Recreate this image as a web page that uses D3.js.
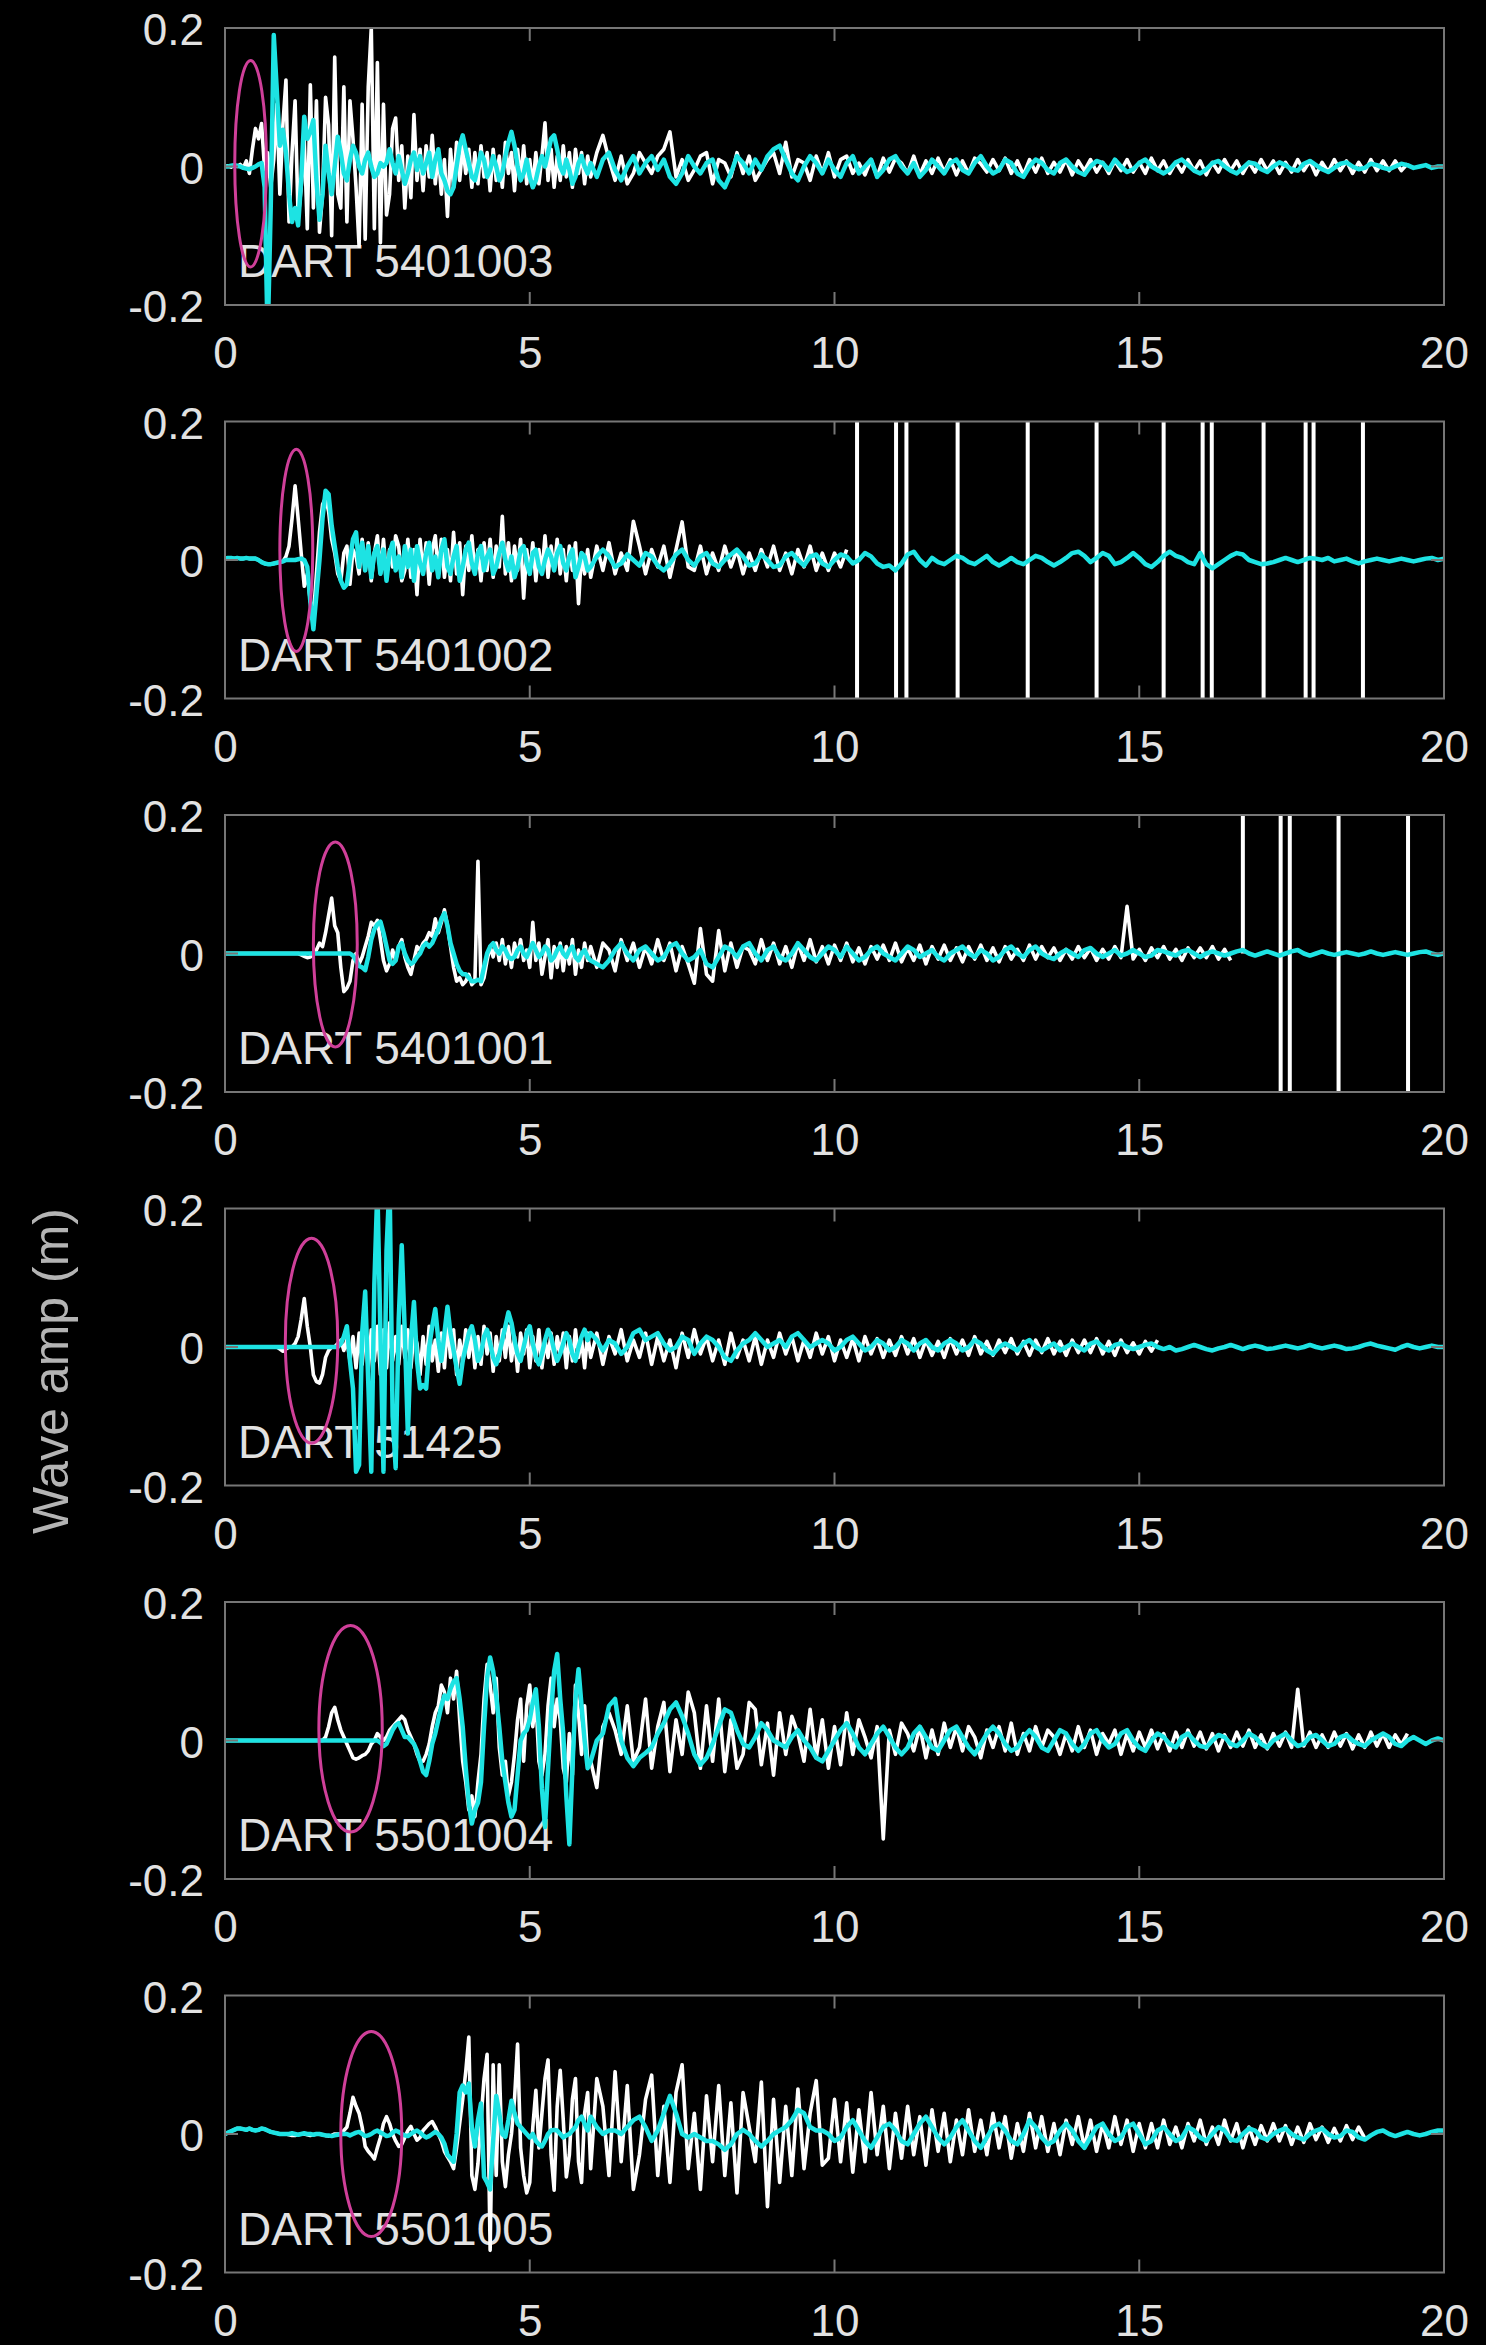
<!DOCTYPE html>
<html>
<head>
<meta charset="utf-8">
<script src="https://cdn.jsdelivr.net/npm/d3@7"></script>
<style>
  html, body { margin: 0; padding: 0; background: #000; }
  svg { display: block; }
</style>
</head>
<body>
<svg id="chart" width="1486" height="2345"></svg>
<script>
// ---- Stations and axes --------------------------------------------------
const stations = ["DART 5401003", "DART 5401002", "DART 5401001", "DART 51425", "DART 5501004", "DART 5501005"];
const xTicks = [0, 5, 10, 15, 20];          // hours after the earthquake
const yTicks = [-0.2, 0, 0.2];              // wave amplitude (m)
const yLabel = "Wave amp (m)";

// Sampling of the records: every 3 min for the first 6 h, every 6 min after.
const earlyStep = 0.05, lateStart = 6, lateStep = 0.1;

// ---- Observed (white) and modelled (cyan) amplitudes, in mm ---------------
const obsEarly1 = [0,1,-1,2,0,3,-2,8,-10,25, 55,40,62,-5,20,-30,10,90,-40,60, 125,-80,20,95,-75,-30,40,-90,118,-60, 95,-95,-40,100,60,-100,158,-40,-60,115, -80,95,40,-30,-115,90,-105,115,200,-90, 150,-110,90,-70,-40,55,70,-20,30,-60, 15,-45,75,-20,25,-35,30,-15,45,-25, 20,-40,10,-72,25,-30,35,-20,30,-10, 25,-30,20,-25,30,-15,20,-35,25,-20, 15,-30,35,-10,20,-35,25,-20,30,-25, 10,-30,20,-25,15,63,-20,25,-30,15, -20,30,-15,20,-30,25,-10,20,-25,15];
const obsLate1 = [-15,20,45,10,-20,15,-25,-10,20,5, -10,15,25,50,-15,10,-20,-5,15,20, -25,10,5,-15,20,-10,15,-20,-5,10, 20,-10,35,-15,10,5,-20,15,-10,20, -15,10,15,-10,5,-12,10,-15,12,-8, 12,5,-10,15,-12,8,-10,12,-8,10, -12,8,-10,12,4,-8,10,-6,12,-10, 8,-12,10,-8,12,-10,6,-8,10,-12, 8,-6,10,-8,6,-10,8,-6,10,-8, 6,-10,12,-6,8,-10,6,-8,10,-6, 8,-12,6,-8,10,-6,8,-10,6,-8, 10,-6,8,-10,6,-8,10,-6,8,-12, 6,-8,10,-6,8,-10,6,-8,10,-6, 8,-6,8,-6,4];
const modEarly1 = [0,0,1,2,1,0,-2,-3,-4,-2, 0,3,5,-30,-250,-60,190,110,30,53, 20,-40,-80,-60,-85,-20,72,40,50,67, -20,-77,-40,30,-10,-40,0,43,20,-10, -20,10,30,20,0,-10,10,20,0,-15, -10,5,0,5,25,5,-10,15,-5,-25, -10,10,20,-5,15,-10,5,20,-15,10, 25,-10,-20,-35,-40,-30,0,30,45,25, 5,-15,-20,0,20,10,-15,-5,15,0, -20,-10,15,35,50,30,0,-20,-10,10, -15,-30,-20,0,15,0,20,40,45,25, 0,-10,10,-5,-25,-15,5,15,0,-10];
const modLate1 = [5,-15,10,20,-5,-20,0,15,-10,5, 15,-5,10,-15,-25,-10,15,0,-10,5, 10,-20,-30,-10,15,5,-10,10,-5,15, 25,30,10,-10,-20,0,15,5,-10,10, -5,-15,5,15,-10,0,10,-15,-5,10, 15,0,-10,5,-15,-5,10,0,-10,5, 10,-5,-10,5,15,0,-10,-5,10,5, -10,-15,0,10,5,-5,-10,5,10,0, -8,-12,0,8,5,-5,10,0,-8,-4, 5,10,0,-5,-10,-4,6,10,2,-6, -10,-4,5,8,0,-6,-10,-2,6,4, -4,-8,0,6,2,-4,-6,4,8,2, -4,-8,-2,4,6,0,-4,-2,4,2, -2,-4,0,4,2,-2,0,2,-2,0, 0];

const obsEarly2 = [2,3,3,2,3,2,2,3,2,2, 2,0,-3,-5,-6,-6,-5,-4,-3,-2, 5,20,60,107,60,10,-38,-20,-60,-80, -20,40,80,90,70,30,10,-20,-30,10, 20,-35,15,5,-20,30,-15,25,-30,10, 35,-20,30,-25,15,-10,35,20,-30,-15, 30,-25,15,-50,30,-20,25,-35,15,35, -20,30,-25,15,-30,40,-20,25,-50,20, -15,35,-20,15,-30,25,-15,30,-25,20, -10,63,-20,25,-30,20,-15,30,-55,15, -20,25,-30,15,-20,35,-25,20,-15,30, -20,15,-30,20,-15,25,-63,10,-20,15];
const obsLate2 = [-25,20,-15,25,-20,10,-15,56,20,-20, 15,-10,20,-25,15,55,-10,-15,20,-20, 10,-15,20,-10,15,-20,10,-15,15,-10, 20,-15,10,-20,15,-10,20,-15,10,-15, 10,-10,15];
const modEarly2 = [2,3,3,2,3,2,2,3,2,2, 2,0,-3,-5,-6,-6,-5,-4,-3,-2, 0,0,0,0,1,2,0,-10,-60,-100, -50,0,60,100,95,50,20,-10,-30,-40, -35,0,30,40,-10,25,-15,20,-25,10, 20,-20,15,-30,10,25,-15,5,-25,20, -10,15,-30,20,-5,-20,10,25,-15,5, -25,15,30,-10,-20,5,20,-30,-10,15, 25,-5,-20,10,20,-15,5,15,-20,-10, 10,25,0,-15,5,-25,-10,15,20,-5, -20,10,15,-10,-20,0,15,5,-15,10, 20,-5,-15,5,15,-25,-10,10,5,-15];
const modLate2 = [-10,5,15,5,-10,-5,8,0,-8,10, 5,-8,-15,-5,8,15,0,-8,5,10, -5,-10,0,8,15,5,-8,-5,8,0, -10,-8,5,10,0,-8,5,8,-5,-10, 0,8,5,-5,0,10,5,-5,-10,-8, -15,-5,8,12,0,-8,3,-3,-6,0, 6,3,-3,-6,0,6,-3,-8,-3,3, -3,-6,0,6,3,-3,-8,-3,3,10, 12,6,-3,3,10,6,-6,-3,3,10, 3,-6,-10,-3,6,12,6,3,-3,-6, 10,-6,-12,-6,0,6,10,8,0,-3, -6,-5,-3,0,3,0,-3,0,3,2, 0,3,-2,0,2,-2,-5,-2,0,2, 0,-2,0,2,0,-2,0,2,3,0, 2];

const obsEarly3 = [0,0,0,0,0,0,0,0,0,0, 0,0,0,0,0,0,0,0,0,0, 0,0,0,0,0,-2,-4,-6,-5,2, 5,15,10,30,55,80,40,30,-20,-55, -50,-40,-10,0,-15,-5,10,25,45,40, 48,20,-10,-25,-15,5,-10,10,20,-5, -20,-30,-10,10,5,15,20,30,25,50, 30,45,63,40,10,-20,-40,-35,-45,-40, -30,-45,-40,133,-45,-35,-10,10,-5,15, -10,20,-15,10,-20,15,-5,20,-10,5, -20,45,-10,15,-30,-5,20,-35,10,-20, 15,-25,10,-15,20,-30,5,-20,15,-10];
const obsLate3 = [10,-20,15,5,-25,20,-10,15,-20,10, -15,20,-10,15,-25,10,-15,-43,36,-30, -40,33,-25,15,-20,10,5,-15,20,-10, 15,-15,10,-20,15,-10,20,-12,10,-15, 12,-10,15,-12,8,-15,10,-8,12,-10, 15,-12,8,-10,12,-15,10,-8,12,-10, 8,-12,10,-8,12,-10,8,-12,10,-8, 6,-10,12,-8,10,-6,8,-10,6,-8, 10,-6,8,-10,6,-8,10,-6,68,-8, 6,-10,8,-6,10,-8,6,-10,8,-6, 8,-6,10,-8,6,-10];
const modEarly3 = [0,0,0,0,0,0,0,0,0,0, 0,0,0,0,0,0,0,0,0,0, 0,0,0,0,0,0,0,0,0,0, 0,0,0,0,0,0,0,0,0,0, 0,0,-3,-10,-18,-20,-24,-5,20,35, 42,46,30,10,-10,-15,-10,10,15,0, -10,-15,-12,-5,0,10,15,10,15,25, 35,50,58,40,15,0,-15,-25,-30,-30, -35,-40,-40,-38,-40,-20,0,10,15,5, 0,10,5,-5,-8,-5,5,10,0,-5, 5,15,5,-5,0,10,5,-10,-5,5, 10,0,-5,5,10,-5,-10,0,5,-5];
const modLate3 = [-10,-15,-20,-10,5,15,0,-10,5,10, 0,-10,-5,10,15,0,-10,-5,5,-15, -20,-5,10,5,-5,10,15,0,-10,5, 10,-5,-10,0,15,5,-5,-10,0,10, 5,-5,10,0,-10,-5,5,10,0,-5, -10,0,10,5,-5,0,5,-5,-10,0, 5,10,0,-5,5,0,-10,-5,5,10, 0,-5,5,10,0,-5,-8,0,5,0, -5,5,8,0,-5,0,5,-3,0,5, 0,-5,-3,5,3,0,-3,3,5,0, -5,0,3,0,-3,0,3,5,0,-3, 0,3,0,-3,0,3,5,0,-3,0, 3,0,-2,0,2,0,-2,0,3,0, -2,0,2,0,-2,0,2,3,0,-2, 0];

const obsEarly4 = [0,0,0,0,0,0,0,0,0,0, 0,0,0,0,0,0,0,0,-3,-6, -3,0,0,5,15,40,70,30,0,-40, -50,-52,-40,-15,-5,0,0,5,10,-5, 10,-20,15,-30,20,-25,30,-35,25,-20, 30,-40,25,-30,35,-20,15,-25,30,-15, 25,-30,20,5,-40,15,-25,30,-20,10, -35,20,-30,35,-15,25,-40,10,-20,25, -15,20,-30,15,-25,30,-10,20,-35,15, -20,25,-15,30,-20,15,-35,20,-10,25, -30,15,-20,25,-30,10,-15,20,-25,15, -10,20,-30,15,-20,25,-15,10,-30,20];
const obsLate4 = [-15,20,-25,15,-10,25,-20,10,-15,20, -25,15,-20,10,-30,20,-15,25,-10,15, -20,10,-25,20,-15,10,-20,15,-25,10, -15,20,-10,15,-20,10,-15,20,-10,15, -20,10,-15,12,-20,15,-10,12,-15,10, -12,15,-10,12,-15,10,-12,8,-15,12, -10,10,-12,15,-10,8,-12,10,-8,12, -10,8,-12,10,-8,12,-10,8,-12,10, -8,10,-8,12,-10,8,-12,10,-8,6, -10,8,-6,10];
const modEarly4 = [0,0,0,0,0,0,0,0,0,0, 0,0,0,0,0,0,0,0,0,0, 0,0,0,0,0,0,0,0,0,0, 0,0,0,0,0,0,0,0,5,15, 30,-20,-60,-180,-170,20,80,-50,-180,90, 230,20,-180,140,240,-100,-175,40,147,20, -125,10,65,-20,-60,-55,-60,0,30,55, 10,-20,20,58,20,-5,-30,-53,-20,0, 20,30,10,-20,-10,15,25,5,-15,-25, -10,10,30,50,35,10,-10,-20,0,20, 30,5,-15,-25,-10,10,25,15,-5,-20, -10,5,20,10,-10,-20,0,15,25,10];
const modLate4 = [20,10,-5,10,5,-10,0,20,25,10, 15,20,5,-5,0,15,10,-10,5,15, 10,0,-15,-20,-5,5,10,20,10,0, 5,10,0,15,20,10,0,5,10,5, -5,0,10,15,5,-5,0,10,5,-5, 0,10,5,-5,5,10,0,-5,5,10, 5,-5,0,10,5,-5,-10,0,5,0, -5,5,10,0,-5,0,5,-5,0,5, 0,-5,5,8,0,-5,3,5,0,-3, 0,3,5,0,-3,0,-5,-3,0,3, 0,-3,-5,-2,0,3,0,-3,0,2, 0,-3,-2,0,2,0,-2,0,3,0, -2,0,2,0,-3,-2,0,3,5,2, 0,-2,-4,0,3,0,-2,0,2,0, 0];

const obsEarly5 = [0,0,0,0,0,0,0,0,0,0, 0,0,0,0,0,0,0,0,0,0, 0,0,0,0,0,0,0,0,0,0, 0,0,0,5,20,40,48,30,15,5, -5,-15,-25,-27,-25,-22,-20,-15,-5,0, 10,5,0,5,15,20,25,30,35,30, 15,5,-5,-20,-30,-30,-20,-5,20,40, 50,80,70,40,90,60,100,30,-30,-60, -100,-80,-110,-60,-20,60,110,80,40,90, -10,-50,-30,-80,-60,-20,30,60,-30,50, 80,20,60,-30,-50,-20,50,90,20,60, 30,-40,-60,10,-50,80,40,-20,50,-30];
const obsLate5 = [-30,-68,20,40,15,-20,50,-30,-10,60, -40,20,55,-45,30,-20,70,40,-40,50, -30,60,-45,30,-40,-20,55,45,-35,25, -50,40,-20,35,10,-30,45,-25,30,-40, 20,-35,40,-20,30,5,-25,20,-142,15, -20,25,10,-15,20,-25,15,-20,25,-10, 20,-15,20,5,-25,15,-10,20,-15,25, -20,10,-15,20,-10,15,5,-20,10,-15, 20,-10,15,-20,10,-5,15,-20,10,-15, 12,-10,15,-12,10,-15,12,-10,15,-8, 12,-12,10,-15,8,-10,12,-8,15,-10, 8,-12,10,-8,12,-10,74,-8,12,-10, 8,-10,12,-8,10,-12,8,-10,12,-8, 10,-10,8,-6,10];
const modEarly5 = [0,0,0,0,0,0,0,0,0,0, 0,0,0,0,0,0,0,0,0,0, 0,0,0,0,0,0,0,0,0,0, 0,0,0,0,0,0,0,0,0,0, 0,0,0,0,0,0,0,0,0,0, 0,-3,-8,-5,5,15,22,25,15,5, 5,0,-5,-15,-30,-45,-50,-30,-5,10, 30,50,65,60,75,85,90,60,20,-40, -90,-120,-100,-90,-60,20,90,120,100,64, 20,-30,-60,-90,-110,-100,-50,0,10,15, 30,55,74,20,-70,-125,-40,40,100,125, 60,10,-80,-150,-40,60,103,50,0,-40];
const modLate5 = [-30,0,10,50,60,0,-25,-37,-25,-18, -10,10,25,45,55,35,10,-20,-35,-25, -5,20,45,40,15,-5,-10,5,25,15, 0,-5,-10,5,15,0,-10,-25,-30,-15, 0,15,25,10,-10,-20,-5,10,20,5, -10,-20,-10,10,20,5,-10,-15,0,15, 20,5,-10,-20,-5,10,20,10,-5,-15, -10,5,15,5,-10,-15,0,15,10,-5, -15,-5,10,15,0,-10,-5,10,15,0, -10,-15,0,10,5,-5,-10,5,10,0, -8,-10,0,8,5,-5,-8,0,10,5, -5,-10,0,5,10,0,-8,-5,5,8, 0,-8,-5,5,8,0,-5,-8,0,5, 10,5,-5,-8,0,5,0,-5,0,3, 0];

const obsEarly6 = [0,2,4,6,8,8,7,6,8,6, 5,6,8,7,5,3,2,1,0,0, 0,-1,-2,-2,-1,0,0,-1,-2,-1, 0,0,-1,-2,-3,-2,0,0,0,5, 10,30,53,40,30,10,-18,-25,-30,-36, -20,-5,15,25,15,0,-10,-18,-15,-5, 5,11,0,-9,-5,5,10,15,18,10, 0,-10,-25,-33,-40,-50,-20,15,50,90, 140,-60,-80,-43,20,80,115,-168,100,-60, 100,-40,-76,-30,0,50,130,-20,-60,-85, -70,10,63,-20,30,80,107,-30,-81,40, 92,20,-62,-30,50,80,-40,-70,30,60];
const obsLate6 = [-50,80,40,-60,90,-40,70,-80,-30,50, 85,-60,40,-70,60,100,-50,30,-80,55, -40,70,-60,45,-85,60,10,-40,75,-105, 50,-70,40,-60,65,-50,30,77,-45,-35, 50,-40,45,-55,35,-40,60,-30,40,-50, 30,-35,40,-30,25,-45,35,-25,30,-40, 20,-30,35,-25,20,-30,30,-20,25,-35, 15,-25,30,-20,25,-25,15,-30,20,-15, 25,-20,20,-25,15,-20,25,-15,20,-25, 15,-20,15,-20,20,-15,10,-20,15,-10, 20,-15,10,-15,20,-10,15,-20,10,-15, 12,-10,15,-10,12,-15,10,-12,15,-8, 10,-12,8,-10,12,-8,10,-6];
const modEarly6 = [0,2,4,6,8,8,7,6,8,6, 5,6,8,7,5,3,2,1,0,0, 0,0,1,0,-1,0,1,0,0,-1, 0,0,-1,-2,-2,-3,-2,-1,0,0, 0,-2,0,2,3,0,-3,-2,0,3, 5,2,0,-3,-2,2,5,3,0,-2, -3,0,3,5,2,-2,-5,-3,0,3, 0,-5,-14,-30,-35,-40,0,60,70,60, 73,10,-18,20,44,-62,-70,-80,-10,55, 30,0,-4,20,48,30,15,10,5,0, -5,0,-10,-15,-18,-10,0,5,6,5, 0,-5,-2,0,5,10,20,25,15,5];
const modLate6 = [25,10,0,5,5,0,10,20,25,10, -10,5,30,55,30,0,-5,0,-5,-10, -10,-15,-23,-15,0,6,0,-10,-18,-10, 0,5,10,20,35,30,10,5,5,0, -10,-5,10,20,5,-10,-20,-5,10,15, 5,-10,-15,0,15,25,10,-5,-15,-5, 10,20,5,-10,-20,-5,10,15,5,-10, -15,0,20,10,-5,-15,-10,5,15,5, -10,-20,-5,10,15,0,-10,-5,10,15, 0,-15,-10,5,10,0,-10,-5,10,5, -5,-10,0,10,5,-8,-10,0,8,5, -5,-8,0,5,8,0,-5,-8,0,5, 8,0,-5,-3,5,3,-5,-8,-2,3, 5,0,-3,0,3,0,-2,0,3,5, 5];

// Off-scale spikes in the recorded series: [hour, low (m), high (m)]
const glitches2 = [[10.37,-1,1],[11.01,-1,1],[11.18,-1,1],[12.02,-1,1],[13.17,-1,1],[14.30,-1,1],[15.40,-1,1],[16.04,-1,1],[16.19,-1,1],[17.04,-1,1],[17.73,-1,1],[17.86,-1,1],[18.67,-1,1]];
const glitches3 = [[16.70,0,1],[17.32,-1,1],[17.47,-1,1],[18.27,-1,1],[19.41,-1,1]];

// First-arrival markers: centre hour, centre amplitude (m), half-width (h), half-height (m)
const arrivalHour  = [0.42, 1.17, 1.81, 1.42, 2.06, 2.40];
const arrivalAmp   = [0.004, 0.014, 0.013, 0.009, 0.017, 0.0];
const arrivalHalfW = [0.26, 0.27, 0.36, 0.43, 0.52, 0.50];
const arrivalHalfH = [0.149, 0.146, 0.148, 0.148, 0.149, 0.148];

const observed = [[obsEarly1, obsLate1], [obsEarly2, obsLate2], [obsEarly3, obsLate3], [obsEarly4, obsLate4], [obsEarly5, obsLate5], [obsEarly6, obsLate6]];
const modelled = [[modEarly1, modLate1], [modEarly2, modLate2], [modEarly3, modLate3], [modEarly4, modLate4], [modEarly5, modLate5], [modEarly6, modLate6]];
const glitches = [[], glitches2, glitches3, [], [], []];

// ---- Layout ---------------------------------------------------------------
const plotLeft = 225, plotRight = 1444, firstTop = 28, panelH = 277, panelStep = 393.5;
const fontFamily = "'Liberation Sans', Arial, Helvetica, sans-serif";
const textColor = "#e2e2e2";
const boxColor = "#767676";
const obsColor = "#ffffff";
const modColor = "#1de3e3";
const arrivalColor = "#cf3f99";

function toSeries(early, late) {
  return early.map((v, i) => ({ t: i * earlyStep, v: v / 1000 }))
    .concat(late.map((v, i) => ({ t: lateStart + i * lateStep, v: v / 1000 })));
}

const svg = d3.select("#chart");
svg.append("rect").attr("width", 1486).attr("height", 2345).attr("fill", "#000");

const x = d3.scaleLinear().domain([xTicks[0], xTicks[xTicks.length - 1]]).range([plotLeft, plotRight]);
const fmtY = d => d === 0 ? "0" : (d < 0 ? "-" : "") + Math.abs(d).toFixed(1);

stations.forEach((name, k) => {
  const top = firstTop + k * panelStep;
  const bottom = top + panelH;
  const y = d3.scaleLinear().domain([yTicks[0], yTicks[yTicks.length - 1]]).range([bottom, top]);
  const g = svg.append("g");

  const clipId = "clip" + k;
  g.append("clipPath").attr("id", clipId)
    .append("rect").attr("x", plotLeft).attr("y", top)
    .attr("width", plotRight - plotLeft).attr("height", panelH);

  // station name
  g.append("text")
    .attr("x", plotLeft + 13).attr("y", bottom - 28)
    .attr("fill", textColor).attr("font-family", fontFamily).attr("font-size", 46)
    .text(name);

  const plot = g.append("g").attr("clip-path", `url(#${clipId})`);

  // off-scale spikes in the record
  plot.selectAll("line.glitch").data(glitches[k]).join("line")
    .attr("class", "glitch")
    .attr("x1", d => x(d[0])).attr("x2", d => x(d[0]))
    .attr("y1", d => y(d[1])).attr("y2", d => y(d[2]))
    .attr("stroke", obsColor).attr("stroke-width", 4);

  const line = d3.line().defined(d => d.v != null).x(d => x(d.t)).y(d => y(d.v));

  plot.append("path")
    .datum(toSeries(observed[k][0], observed[k][1]))
    .attr("d", line).attr("fill", "none")
    .attr("stroke", obsColor).attr("stroke-width", 3.6).attr("stroke-linejoin", "round");

  plot.append("path")
    .datum(toSeries(modelled[k][0], modelled[k][1]))
    .attr("d", line).attr("fill", "none")
    .attr("stroke", modColor).attr("stroke-width", 4.5).attr("stroke-linejoin", "round");

  // axes box
  g.append("rect")
    .attr("x", plotLeft).attr("y", top).attr("width", plotRight - plotLeft).attr("height", panelH)
    .attr("fill", "none").attr("stroke", boxColor).attr("stroke-width", 2);

  // inward ticks
  const innerX = xTicks.slice(1, -1);
  g.selectAll("line.xt").data(innerX.flatMap(t => [[t, bottom, -13], [t, top, 13]])).join("line")
    .attr("x1", d => x(d[0])).attr("x2", d => x(d[0]))
    .attr("y1", d => d[1]).attr("y2", d => d[1] + d[2])
    .attr("stroke", boxColor).attr("stroke-width", 2);
  g.selectAll("line.yt").data([[plotLeft, 13], [plotRight, -13]]).join("line")
    .attr("x1", d => d[0]).attr("x2", d => d[0] + d[1])
    .attr("y1", y(0)).attr("y2", y(0))
    .attr("stroke", boxColor).attr("stroke-width", 2);

  // tick labels
  const xAxis = d3.axisBottom(x).tickValues(xTicks).tickSize(0).tickPadding(32).tickFormat(d3.format("d"));
  const xa = g.append("g").attr("transform", `translate(0,${bottom})`).call(xAxis);
  const yAxis = d3.axisLeft(y).tickValues(yTicks).tickSize(0).tickPadding(21).tickFormat(fmtY);
  const ya = g.append("g").attr("transform", `translate(${plotLeft},0)`).call(yAxis);
  [xa, ya].forEach(a => {
    a.select(".domain").remove();
    a.selectAll("text").attr("fill", textColor).attr("font-family", fontFamily).attr("font-size", 44);
  });
  ya.selectAll("text").attr("dy", "0.38em");

  // first-arrival marker
  g.append("ellipse")
    .attr("cx", x(arrivalHour[k])).attr("cy", y(arrivalAmp[k]))
    .attr("rx", x(arrivalHour[k] + arrivalHalfW[k]) - x(arrivalHour[k]))
    .attr("ry", y(arrivalAmp[k] - arrivalHalfH[k]) - y(arrivalAmp[k]))
    .attr("fill", "none").attr("stroke", arrivalColor).attr("stroke-width", 3);
});

svg.append("text")
  .attr("transform", "translate(55,1371) rotate(-90)")
  .attr("text-anchor", "middle").attr("dominant-baseline", "middle")
  .attr("fill", "#b4b4b4").attr("font-family", fontFamily).attr("font-size", 50)
  .text(yLabel);
</script>
</body>
</html>
